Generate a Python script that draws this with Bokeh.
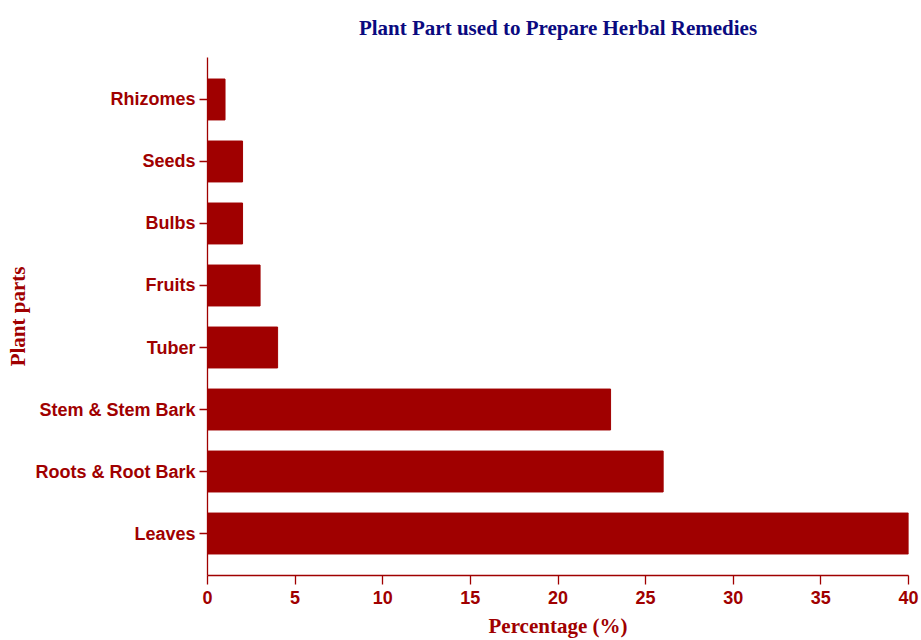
from bokeh.plotting import figure
from bokeh.models import FactorRange, Range1d, ColumnDataSource
from bokeh.embed import file_html
from bokeh.resources import INLINE

# Data (bottom to top)
parts = ["Leaves", "Roots & Root Bark", "Stem & Stem Bark", "Tuber",
         "Fruits", "Bulbs", "Seeds", "Rhizomes"]
percentages = [40, 26, 23, 4, 3, 2, 2, 1]
x_ticks = [0, 5, 10, 15, 20, 25, 30, 35, 40]

RED = "#a00000"
NAVY = "#0a0a80"

source = ColumnDataSource(dict(part=parts, pct=percentages))

p = figure(
    width=921, height=640,
    y_range=FactorRange(factors=parts, range_padding=0.177, range_padding_units="absolute"),
    x_range=Range1d(0, 40),
    output_backend="svg", toolbar_location=None,
    min_border_left=207, min_border_right=13, min_border_top=57, min_border_bottom=65,
    title="Plant Part used to Prepare Herbal Remedies",
)

p.hbar(y="part", left=0, right="pct", height=0.66, source=source,
       fill_color=RED, line_color=RED, line_width=1)

p.title.align = "center"
p.title.vertical_align = "top"
p.title.text_font = "Liberation Serif"
p.title.text_font_size = "21px"
p.title.text_font_style = "bold"
p.title.text_color = NAVY
p.title.standoff = 31

p.outline_line_color = None
p.xgrid.grid_line_color = None
p.ygrid.grid_line_color = None

p.xaxis.ticker = x_ticks
p.xaxis.axis_label = "Percentage (%)"
p.yaxis.axis_label = "Plant parts"

for ax in (p.xaxis[0], p.yaxis[0]):
    ax.axis_line_color = RED
    ax.axis_line_width = 1.3
    ax.major_tick_line_color = RED
    ax.major_tick_line_width = 1.3
    ax.major_tick_in = 0
    ax.minor_tick_line_color = None
    ax.major_label_text_color = RED
    ax.major_label_text_font = "Liberation Sans"
    ax.major_label_text_font_size = "18px"
    ax.major_label_text_font_style = "bold"
    ax.axis_label_text_color = RED
    ax.axis_label_text_font = "Liberation Serif"
    ax.axis_label_text_font_size = "21px"
    ax.axis_label_text_font_style = "bold"

p.xaxis.major_tick_out = 9
p.yaxis.major_tick_out = 8
p.xaxis.major_label_standoff = 6
p.yaxis.major_label_standoff = 4
p.xaxis.axis_label_standoff = 7
p.yaxis.axis_label_standoff = 2

open("out.html", "w").write(file_html(p, INLINE))
